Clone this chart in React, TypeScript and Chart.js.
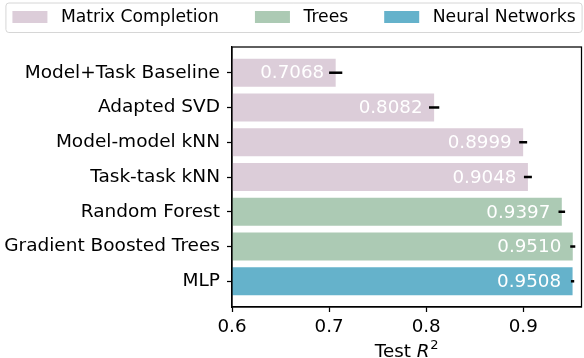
import React, { useEffect, useRef } from "react";
import { Chart, registerables } from "chart.js";

Chart.register(...registerables);

const methods = [
  "Model+Task Baseline",
  "Adapted SVD",
  "Model-model kNN",
  "Task-task kNN",
  "Random Forest",
  "Gradient Boosted Trees",
  "MLP",
];
const scores = [0.7068, 0.8082, 0.8999, 0.9048, 0.9397, 0.951, 0.9508];
const errors = [0.0068, 0.0053, 0.0041, 0.0041, 0.0034, 0.0026, 0.0017];
const methodGroup = [0, 0, 0, 0, 1, 1, 2];
const groupNames = ["Matrix Completion", "Trees", "Neural Networks"];
const groupColors = ["#dccdd9", "#accab4", "#65b2cb"];
const xTicks = [0.6, 0.7, 0.8, 0.9];
const xMin = 0.6;
const xMax = 0.96;

const FONT = '"DejaVu Sans", sans-serif';

const legendPlugin = {
  id: "boxLegend",
  afterDraw(chart: any) {
    const ctx = chart.ctx;
    ctx.save();
    ctx.font = `17.2px ${FONT}`;
    const sw = 35, sh = 12, gapText = 13.5, gapItem = 36;
    const widths = groupNames.map((g) => ctx.measureText(g).width);
    const total =
      widths.reduce((a, b) => a + b, 0) +
      groupNames.length * (sw + gapText) +
      (groupNames.length - 1) * gapItem;
    let x = 294 - total / 2;
    const cy = 17;
    const bx = x - 6.5, bw = total + 13, by = 3, bh = 29.5, r = 3;
    ctx.beginPath();
    ctx.moveTo(bx + r, by);
    ctx.lineTo(bx + bw - r, by);
    ctx.quadraticCurveTo(bx + bw, by, bx + bw, by + r);
    ctx.lineTo(bx + bw, by + bh - r);
    ctx.quadraticCurveTo(bx + bw, by + bh, bx + bw - r, by + bh);
    ctx.lineTo(bx + r, by + bh);
    ctx.quadraticCurveTo(bx, by + bh, bx, by + bh - r);
    ctx.lineTo(bx, by + r);
    ctx.quadraticCurveTo(bx, by, bx + r, by);
    ctx.closePath();
    ctx.fillStyle = "rgba(255,255,255,0.8)";
    ctx.fill();
    ctx.strokeStyle = "#d6d6d6";
    ctx.lineWidth = 1;
    ctx.stroke();
    ctx.textBaseline = "middle";
    ctx.textAlign = "left";
    groupNames.forEach((g, i) => {
      ctx.fillStyle = groupColors[i];
      ctx.fillRect(x, cy - sh / 2, sw, sh);
      ctx.fillStyle = "#000";
      ctx.fillText(g, x + sw + gapText, cy + 0.5);
      x += sw + gapText + widths[i] + gapItem;
    });
    ctx.restore();
  },
};

const overlayPlugin = {
  id: "overlay",
  afterDatasetsDraw(chart: any) {
    const ctx = chart.ctx;
    const xs = chart.scales.x;
    const ys = chart.scales.y;
    const area = chart.chartArea;
    ctx.save();
    ctx.font = `18.3px ${FONT}`;
    ctx.fillStyle = "#fff";
    ctx.textAlign = "right";
    ctx.textBaseline = "middle";
    scores.forEach((v, i) => {
      ctx.fillText(v.toFixed(4), xs.getPixelForValue(v) - 11.5, ys.getPixelForValue(i) + 1);
    });
    ctx.strokeStyle = "#000";
    ctx.lineWidth = 2.5;
    scores.forEach((v, i) => {
      const y = ys.getPixelForValue(i);
      ctx.beginPath();
      ctx.moveTo(xs.getPixelForValue(v - errors[i]), y);
      ctx.lineTo(xs.getPixelForValue(v + errors[i]), y);
      ctx.stroke();
    });
    ctx.lineWidth = 1.25;
    ctx.strokeRect(area.left, area.top, area.right - area.left, area.bottom - area.top);
    ctx.restore();
  },
  afterDraw(chart: any) {
    const ctx = chart.ctx;
    const area = chart.chartArea;
    ctx.save();
    ctx.fillStyle = "#000";
    ctx.textBaseline = "alphabetic";
    ctx.textAlign = "left";
    const p1 = "Test ";
    const p2 = "R";
    const p3 = "2";
    ctx.font = `18.3px ${FONT}`;
    const w1 = ctx.measureText(p1).width;
    ctx.font = `italic 18.3px ${FONT}`;
    const w2 = ctx.measureText(p2).width;
    ctx.font = `13px ${FONT}`;
    const w3 = ctx.measureText(p3).width;
    const total = w1 + w2 + 1 + w3;
    let x = (area.left + area.right) / 2 - total / 2;
    const base = 356.5;
    ctx.font = `18.3px ${FONT}`;
    ctx.fillText(p1, x, base);
    x += w1;
    ctx.font = `italic 18.3px ${FONT}`;
    ctx.fillText(p2, x, base);
    x += w2 + 1;
    ctx.font = `13px ${FONT}`;
    ctx.fillText(p3, x, base - 7.5);
    ctx.restore();
  },
};

export default function App() {
  const ref = useRef<HTMLCanvasElement | null>(null);
  useEffect(() => {
    document.body.style.margin = "0";
    const datasets = groupNames.map((g, gi) => ({
      label: g,
      data: scores
        .map((v, i) => ({ x: v, y: i, g: methodGroup[i] }))
        .filter((d) => d.g === gi)
        .map((d) => ({ x: d.x, y: d.y })),
      backgroundColor: groupColors[gi],
      borderWidth: 0,
      grouped: false,
      barPercentage: 0.8,
      categoryPercentage: 1,
    }));
    const chart = new Chart(ref.current as HTMLCanvasElement, {
      type: "bar",
      data: { datasets },
      options: {
        animation: false,
        responsive: false,
        devicePixelRatio: 1,
        indexAxis: "y",
        layout: { padding: { top: 47, right: 2.5, left: 0, bottom: 0 } },
        plugins: {
          legend: { display: false },
          tooltip: { enabled: false },
        },
        scales: {
          x: {
            type: "linear",
            bounds: "data",
            offset: false,
            min: xMin,
            max: xMax,
            afterBuildTicks: (s: any) => {
              s.ticks = xTicks.map((v) => ({ value: v }));
            },
            afterFit: (s: any) => {
              s.height = 51;
            },
            ticks: {
              color: "#000",
              font: { family: FONT, size: 18.3 },
              padding: 4,
              includeBounds: false,
              callback: (v: any) => Number(v).toFixed(1),
            },
            grid: {
              offset: false,
              drawOnChartArea: false,
              drawTicks: true,
              tickLength: 5,
              tickColor: "#000",
              tickWidth: 1.25,
            },
            border: { display: true, color: "#000", width: 1.25 },
          },
          y: {
            type: "linear",
            bounds: "data",
            offset: false,
            min: -0.74,
            max: 6.74,
            reverse: true,
            afterBuildTicks: (s: any) => {
              s.ticks = methods.map((_, i) => ({ value: i }));
            },
            afterFit: (s: any) => {
              s.width = 232;
            },
            ticks: {
              color: "#000",
              font: { family: FONT, size: 18.5 },
              padding: 7,
              autoSkip: false,
              includeBounds: false,
              stepSize: 1,
              callback: (v: any) => methods[Math.round(Number(v))] ?? "",
            },
            grid: {
              offset: false,
              drawOnChartArea: false,
              drawTicks: true,
              tickLength: 5,
              tickColor: "#000",
              tickWidth: 1.25,
            },
            border: { display: true, color: "#000", width: 1.25 },
          },
        },
      } as any,
      plugins: [legendPlugin, overlayPlugin],
    });
    return () => chart.destroy();
  }, []);
  return (
    <div style={{ width: 584, height: 358 }}>
      <canvas ref={ref} width={584} height={358} />
    </div>
  );
}
